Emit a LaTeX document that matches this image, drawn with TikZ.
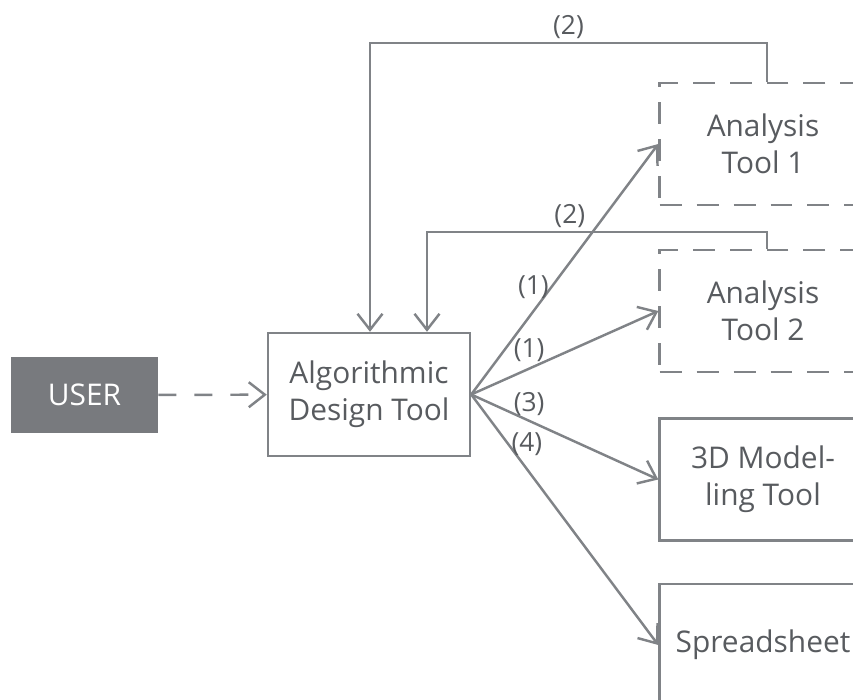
\documentclass[tikz,border=0pt]{standalone}
\usepackage{fontspec}
\setmainfont{Open Sans}
\usetikzlibrary{arrows.meta}

\definecolor{linegray}{RGB}{128,131,135}
\definecolor{textgray}{RGB}{88,91,95}
\definecolor{usergray}{RGB}{120,122,126}

\tikzset{
  toolbox/.style={draw=linegray, line width=1.4pt, minimum width=4.14cm,
    minimum height=2.44cm, align=center, text=textgray,
    font=\fontsize{17}{21}\selectfont},
  plannedbox/.style={toolbox, dash pattern=on 0.44cm off 0.3cm},
  flow/.style={->, draw=linegray, line width=1.4pt},
  tag/.style={text=textgray, font=\fontsize{15}{17}\selectfont, inner sep=1pt},
}

\begin{document}
\begin{tikzpicture}[x=0.02cm, y=-0.02cm, >={Straight Barb[length=0.32cm,width=0.5cm]}]
\clip (0,0) rectangle (853,700);
%
\node[fill=usergray, minimum width=2.94cm, minimum height=1.52cm, text=white,
  font=\fontsize{17}{21}\selectfont] (user) at (84.5,395) {USER};
\node[toolbox, minimum width=4.04cm, minimum height=2.46cm] (adt) at (369,394.5)
  {Algorithmic\\Design Tool};
\path[flow, dash pattern=on 0.36cm off 0.36cm] (user) -- (adt);
%
\node[plannedbox] (at1) at (763,144) {Analysis\\Tool 1};
\node[plannedbox] (at2) at (763,311) {Analysis\\Tool 2};
\node[toolbox] (model) at (763,479.5) {3D Model-\\ling Tool};
\node[toolbox] (sheet) at (763,645) {Spreadsheet};
%
\path[flow] (adt.east) -- node[tag, pos=0.43, left]{(1)} (at1.west);
\path[flow] (adt.east) -- node[tag, pos=0.31, above=2pt]{(1)} (at2.west);
\path[flow] (adt.east) -- node[tag, pos=0.31, above=1pt]{(3)} (model.west);
\path[flow] (adt.east) -- node[tag, pos=0.2, right]{(4)} (sheet.west);
%
\coordinate (fb1) at (370,43);
\coordinate (fb2) at (427,232);
\path[flow] ([xshift=0.08cm]at1.north) |- node[tag, pos=0.75, above=1pt]{(2)} (fb1) -- (fb1 |- adt.north);
\path[flow] ([xshift=0.08cm]at2.north) |- node[tag, pos=0.79, above=1pt]{(2)} (fb2) -- (fb2 |- adt.north);
\end{tikzpicture}
\end{document}
